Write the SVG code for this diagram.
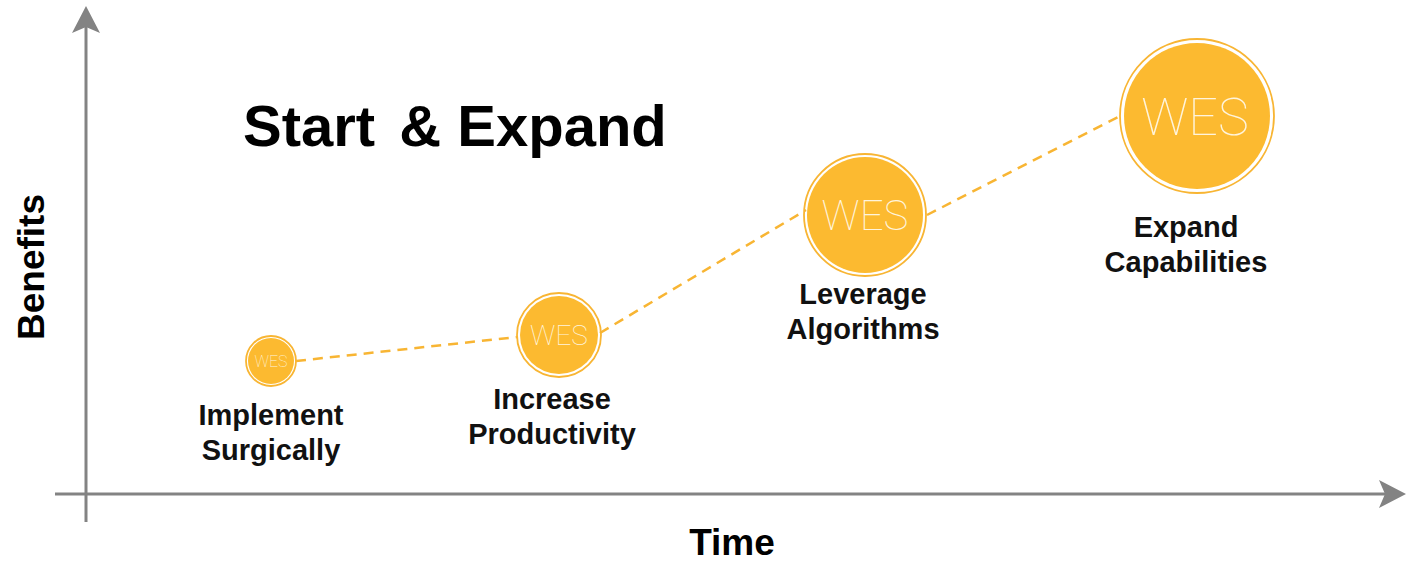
<svg xmlns="http://www.w3.org/2000/svg" width="1408" height="561" viewBox="0 0 1408 561">
<style>
.axis{stroke:#838383;stroke-width:3;fill:none}
.dash{stroke:#F8B533;stroke-width:2.5;stroke-dasharray:10 7;fill:none}
.fill{fill:#FCBA30}
.ring{fill:none;stroke:#F8B533;stroke-width:1.8}
.wes{font-family:Roboto,"Liberation Sans",sans-serif;font-weight:100;fill:#FFF4DC;text-anchor:middle}
.lbl{font-family:"Liberation Sans",Arial,sans-serif;font-weight:bold;font-size:29px;fill:#111;text-anchor:middle}
.big{font-family:"Liberation Sans",Arial,sans-serif;font-weight:bold;fill:#000}
</style>
<g id="axes">
<line class="axis" x1="86" y1="522" x2="86" y2="10"/>
<path d="M86,6 L100,33 L86,27 L72,33 Z" fill="#838383"/>
<line class="axis" x1="55" y1="494" x2="1400" y2="494"/>
<path d="M1406,494 L1379,508 L1385,494 L1379,480 Z" fill="#838383"/>
</g>
<g id="connectors">
<line class="dash" x1="296" y1="361" x2="517" y2="337"/>
<line class="dash" x1="600" y1="333" x2="806" y2="210"/>
<line class="dash" x1="927" y1="215" x2="1120" y2="116"/>
</g>
<g id="node1">
<circle class="fill" cx="271" cy="361" r="23"/>
<circle class="ring" cx="271" cy="361" r="25"/>
<text class="wes" x="271" y="367" font-size="16">WES</text>
<text class="lbl" x="271" y="425">Implement</text>
<text class="lbl" x="271" y="460">Surgically</text>
</g>
<g id="node2">
<circle class="fill" cx="559" cy="335" r="39"/>
<circle class="ring" cx="559" cy="335" r="42"/>
<text class="wes" x="559" y="345" font-size="28">WES</text>
<text class="lbl" x="552" y="409">Increase</text>
<text class="lbl" x="552" y="444">Productivity</text>
</g>
<g id="node3">
<circle class="fill" cx="865" cy="215" r="58"/>
<circle class="ring" cx="865" cy="215" r="61"/>
<text class="wes" x="865" y="230" font-size="42">WES</text>
<text class="lbl" x="863" y="304">Leverage</text>
<text class="lbl" x="863" y="339">Algorithms</text>
</g>
<g id="node4">
<circle class="fill" cx="1197" cy="116" r="73"/>
<circle class="ring" cx="1197" cy="116" r="77"/>
<text class="wes" x="1195" y="135" font-size="52">WES</text>
<text class="lbl" x="1186" y="237">Expand</text>
<text class="lbl" x="1186" y="272">Capabilities</text>
</g>
<g id="titles">
<text class="big" x="243" y="146" font-size="58">Start <tspan dx="8">&amp; Expand</tspan></text>
<text class="big" x="732" y="555" font-size="37" text-anchor="middle">Time</text>
<text class="big" transform="translate(44,267) rotate(-90)" font-size="37" text-anchor="middle">Benefits</text>
</g>
</svg>
